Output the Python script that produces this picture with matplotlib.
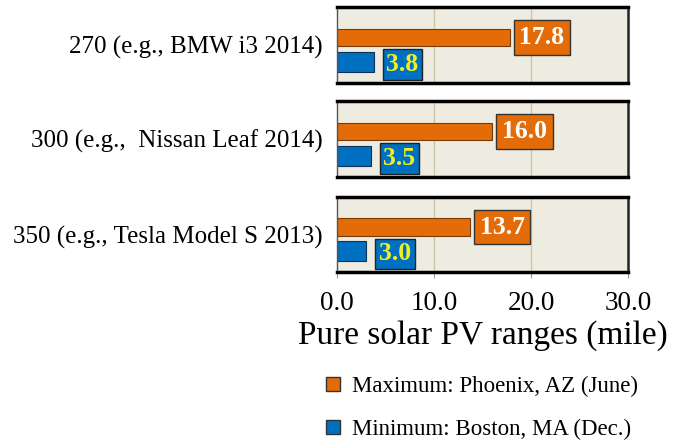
import matplotlib
matplotlib.use("Agg")
import matplotlib.pyplot as plt
from matplotlib.patches import Patch

plt.rcParams['font.family'] = ['Liberation Serif', 'DejaVu Serif']

vehicles = ["270 (e.g., BMW i3 2014)",
            "300 (e.g.,  Nissan Leaf 2014)",
            "350 (e.g., Tesla Model S 2013)"]
max_range = [17.8, 16.0, 13.7]
min_range = [3.8, 3.5, 3.0]
xticks = [0, 10, 20, 30]
legend_labels = ["Maximum: Phoenix, AZ (June)", "Minimum: Boston, MA (Dec.)"]

orange = '#E36C09'
blue = '#0070C0'
bg = '#EEECE1'

W, H = 688, 446
fig = plt.figure(figsize=(W / 100, H / 100), dpi=100)

# panel boxes in pixels (top, bottom)
panels = [(7, 83), (101, 177), (197, 272)]
left_px, right_px = 337, 628

for i, (top, bot) in enumerate(panels):
    ax = fig.add_axes([left_px / W, 1 - bot / H, (right_px - left_px) / W, (bot - top) / H])
    ax.set_facecolor(bg)
    ax.set_xlim(0, 30)
    ax.set_ylim(0, 1)
    for x in [10, 20]:
        ax.axvline(x, color='#CFC8A8', lw=1, zorder=0)
    ax.barh(0.6, max_range[i], height=0.23, color=orange, edgecolor='#7a3a05', lw=0.8, zorder=2)
    ax.barh(0.28, min_range[i], height=0.26, color=blue, edgecolor='#10305a', lw=0.8, zorder=2)
    ax.annotate(f"{max_range[i]:.1f}", (max_range[i], 0.6), xytext=(7, 0), textcoords='offset points',
                ha='left', va='center', color='white', fontsize=18.5, fontweight='bold',
                bbox=dict(boxstyle='square,pad=0.22', fc=orange, ec='#333333', lw=1), zorder=3)
    ax.annotate(f"{min_range[i]:.1f}", (min_range[i], 0.24), xytext=(9, 0), textcoords='offset points',
                ha='left', va='center', color='#F0F020', fontsize=18.5, fontweight='bold',
                bbox=dict(boxstyle='square,pad=0.15', fc=blue, ec='#222222', lw=1), zorder=3)
    for s in ['top', 'bottom']:
        ax.spines[s].set_linewidth(2.5)
        ax.spines[s].set_color('black')
    ax.spines['left'].set_linewidth(1)
    ax.spines['left'].set_color('#555555')
    ax.spines['right'].set_linewidth(1.8)
    ax.spines['right'].set_color('#222222')
    ax.set_yticks([0.5])
    ax.set_yticklabels([vehicles[i]], fontsize=18)
    ax.tick_params(axis='y', length=0, pad=10)
    ax.set_xticks(xticks)
    if i == len(panels) - 1:
        ax.set_xticklabels([f"{t:.1f}" for t in xticks], fontsize=19.5)
        ax.tick_params(axis='x', length=4, color='#999999', pad=10)
        ax.set_xlabel("Pure solar PV ranges (mile)", fontsize=24, labelpad=3)
    else:
        ax.tick_params(axis='x', length=0, labelbottom=False)

handles = [Patch(facecolor=orange, edgecolor='#333333'), Patch(facecolor=blue, edgecolor='#333333')]
fig.legend(handles, legend_labels, loc='center', bbox_to_anchor=(482 / W, 1 - 408 / H),
           frameon=False, fontsize=16.5, handlelength=0.6, handleheight=0.6, handletextpad=0.5,
           labelspacing=0.95)

fig.savefig("out.png", dpi=100)
